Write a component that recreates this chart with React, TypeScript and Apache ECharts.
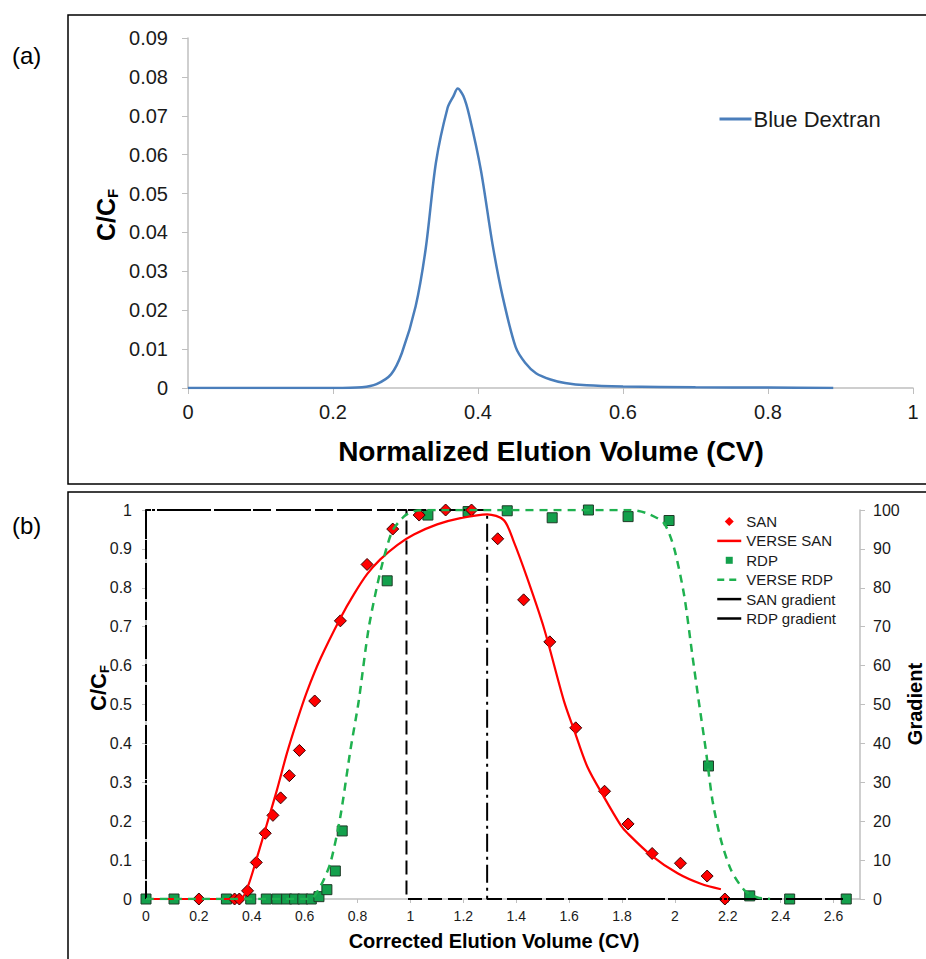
import React, { useEffect, useRef } from "react";
import * as echarts from "echarts";

// ---------- Panel (a): Blue Dextran ----------
const bdX = [0, 0.1, 0.2, 0.24, 0.26, 0.28, 0.295, 0.314, 0.328, 0.342, 0.358, 0.366, 0.372, 0.38, 0.388, 0.404, 0.42, 0.434, 0.452, 0.465, 0.48, 0.5, 0.52, 0.55, 0.6, 0.7, 0.8, 0.89];
const bdY = [0, 0, 0, 0.0002, 0.001, 0.0035, 0.009, 0.021, 0.036, 0.058, 0.072, 0.075, 0.077, 0.075, 0.07, 0.056, 0.037, 0.0235, 0.0105, 0.0065, 0.0038, 0.0022, 0.0013, 0.0007, 0.0004, 0.0002, 0.0001, 0];

// ---------- Panel (b) ----------
const sanX = [0.2, 0.335, 0.353, 0.384, 0.417, 0.451, 0.48, 0.509, 0.542, 0.58, 0.638, 0.735, 0.836, 0.933, 1.033, 1.133, 1.231, 1.33, 1.428, 1.527, 1.625, 1.734, 1.823, 1.914, 2.021, 2.122, 2.189];
const sanY = [0, 0, 0, 0.021, 0.094, 0.169, 0.215, 0.26, 0.317, 0.382, 0.509, 0.715, 0.86, 0.951, 0.987, 1.0, 1.0, 0.926, 0.769, 0.661, 0.44, 0.277, 0.193, 0.117, 0.092, 0.059, 0];

const verseSanX = [0, 0.356, 0.384, 0.419, 0.457, 0.495, 0.533, 0.571, 0.608, 0.659, 0.735, 0.786, 0.836, 0.886, 0.95, 1.013, 1.101, 1.189, 1.29, 1.353, 1.391, 1.442, 1.505, 1.58, 1.619, 1.669, 1.732, 1.795, 1.821, 1.909, 2.01, 2.098, 2.174];
const verseSanY = [0, 0, 0.03, 0.105, 0.192, 0.28, 0.375, 0.458, 0.532, 0.617, 0.722, 0.783, 0.835, 0.873, 0.91, 0.937, 0.963, 0.979, 0.989, 0.974, 0.918, 0.824, 0.696, 0.51, 0.434, 0.34, 0.262, 0.19, 0.169, 0.113, 0.066, 0.039, 0.025];

const rdpX = [0, 0.106, 0.304, 0.396, 0.455, 0.495, 0.532, 0.562, 0.593, 0.625, 0.654, 0.684, 0.716, 0.742, 0.912, 1.066, 1.218, 1.366, 1.536, 1.673, 1.823, 1.978, 2.127, 2.283, 2.434, 2.648];
const rdpY = [0, 0, 0, 0, 0, 0, 0, 0, 0, 0, 0.006, 0.024, 0.072, 0.175, 0.818, 0.987, 0.996, 0.998, 0.98, 1.0, 0.983, 0.973, 0.342, 0.008, 0, 0];

const verseRdpX = [0, 0.62, 0.659, 0.697, 0.735, 0.773, 0.804, 0.842, 0.886, 0.93, 0.975, 1.013, 1.1, 1.833, 1.897, 1.959, 1.997, 2.035, 2.066, 2.091, 2.117, 2.142, 2.174, 2.212, 2.262, 2.312, 2.36];
const verseRdpY = [0, 0, 0.032, 0.092, 0.212, 0.383, 0.507, 0.696, 0.841, 0.944, 0.983, 0.997, 1, 1, 0.991, 0.966, 0.902, 0.781, 0.627, 0.505, 0.383, 0.254, 0.152, 0.075, 0.023, 0.004, 0];

const sanGradX = [0, 0, 1.29, 1.29, 2.65];
const sanGradY = [0, 100, 100, 0, 0];
const rdpGradX = [0, 0, 0.985, 0.985, 2.65];
const rdpGradY = [0, 100, 100, 0, 0];

const zip = (x: number[], y: number[]) => x.map((v, i) => [v, y[i]]);

const FONT = "'Liberation Sans', Arial, Helvetica, sans-serif";
const GRAY = "#bfbfbf";
const HIDE_SYMBOL = { opacity: 0 };
const DIAMOND_ICON = "path://M0,0 M5,0.5 L9.5,5 L5,9.5 L0.5,5 Z M10,10";
const SQUARE_ICON = "path://M0,0 M1.5,1.5 L8.5,1.5 L8.5,8.5 L1.5,8.5 Z M10,10";

export default function App() {
  const ref = useRef<HTMLDivElement>(null);
  useEffect(() => {
    if (!ref.current) return;
    const chart = echarts.init(ref.current, null, { renderer: "svg" });
    const axisCommon = {
      type: "value" as const,
      axisLine: { show: true, lineStyle: { color: GRAY, width: 1.5 } },
      axisTick: { show: true, inside: false, length: 6, lineStyle: { color: GRAY, width: 1 } },
      splitLine: { show: false },
    };
    chart.setOption({
      animation: false,
      backgroundColor: "#fff",
      textStyle: { fontFamily: FONT },
      grid: [
        { left: 188, right: 13, top: 38, bottom: 571 },
        { left: 146, right: 66, top: 510, bottom: 60 },
      ],
      xAxis: [
        {
          ...axisCommon, gridIndex: 0, min: 0, max: 1, interval: 0.2,
          axisLabel: { fontSize: 20, color: "#1a1a1a", margin: 14, fontFamily: FONT },
        },
        {
          ...axisCommon, gridIndex: 1, min: 0, max: 2.7, interval: 0.2,
          axisTick: { show: true, inside: false, length: 4, lineStyle: { color: GRAY } },
          axisLabel: { fontSize: 14, color: "#1a1a1a", margin: 10, showMaxLabel: false, fontFamily: FONT },
        },
      ],
      yAxis: [
        {
          ...axisCommon, gridIndex: 0, min: 0, max: 0.09, interval: 0.01,
          axisLabel: { fontSize: 20, color: "#1a1a1a", margin: 20, fontFamily: FONT },
        },
        {
          ...axisCommon, gridIndex: 1, min: 0, max: 1, interval: 0.1,
          axisTick: { show: true, inside: false, length: 4, lineStyle: { color: GRAY } },
          axisLabel: { fontSize: 16, color: "#1a1a1a", margin: 14, fontFamily: FONT },
        },
        {
          ...axisCommon, gridIndex: 1, position: "right", min: 0, max: 100, interval: 10,
          axisTick: { show: true, inside: false, length: 5, lineStyle: { color: GRAY } },
          axisLabel: { fontSize: 16, color: "#1a1a1a", margin: 13, fontFamily: FONT },
        },
      ],
      legend: [
        {
          data: [{ name: "Blue Dextran", itemStyle: HIDE_SYMBOL, lineStyle: { width: 3 } }],
          left: 718, top: 108, orient: "vertical",
          itemWidth: 32, itemHeight: 10, selectedMode: false, padding: 0,
          textStyle: { fontSize: 22, color: "#1a1a1a", fontFamily: FONT, padding: [0, 0, 0, -3] },
        },
        {
          data: [
            { name: "SAN", icon: DIAMOND_ICON, itemStyle: { borderWidth: 0 } },
            { name: "VERSE SAN", itemStyle: HIDE_SYMBOL, lineStyle: { width: 2.5 } },
            { name: "RDP", icon: SQUARE_ICON, itemStyle: { borderWidth: 0 } },
            { name: "VERSE RDP", itemStyle: HIDE_SYMBOL, lineStyle: { width: 2.5, type: [7, 5] } },
            { name: "SAN gradient", itemStyle: HIDE_SYMBOL, lineStyle: { type: "solid", width: 2.5 } },
            { name: "RDP gradient", itemStyle: HIDE_SYMBOL, lineStyle: { type: "solid", width: 2.5 } },
          ],
          left: 716, top: 514, orient: "vertical", symbolKeepAspect: true,
          itemWidth: 24, itemHeight: 10, itemGap: 4.4, selectedMode: false, padding: 0,
          textStyle: { fontSize: 15, lineHeight: 15, color: "#1a1a1a", fontFamily: FONT },
        },
      ],
      series: [
        {
          name: "Blue Dextran", type: "line", xAxisIndex: 0, yAxisIndex: 0,
          data: zip(bdX, bdY), symbol: "none", smooth: 0.3,
          lineStyle: { color: "#4a7ebb", width: 2.5 }, itemStyle: { color: "#4a7ebb" },
        },
        {
          name: "SAN gradient", type: "line", xAxisIndex: 1, yAxisIndex: 2,
          data: zip(sanGradX, sanGradY), symbol: "none",
          lineStyle: { color: "#000", width: 2, type: [18, 5, 3, 5] }, itemStyle: { color: "#000" },
        },
        {
          name: "RDP gradient", type: "line", xAxisIndex: 1, yAxisIndex: 2,
          data: zip(rdpGradX, rdpGradY), symbol: "none",
          lineStyle: { color: "#000", width: 2, type: [14, 6] }, itemStyle: { color: "#000" },
        },
        {
          name: "VERSE SAN", type: "line", xAxisIndex: 1, yAxisIndex: 1,
          data: zip(verseSanX, verseSanY), symbol: "none", smooth: 0.3,
          lineStyle: { color: "#ff0000", width: 2.2 }, itemStyle: { color: "#ff0000" },
        },
        {
          name: "VERSE RDP", type: "line", xAxisIndex: 1, yAxisIndex: 1,
          data: zip(verseRdpX, verseRdpY), symbol: "none", smooth: 0.25,
          lineStyle: { color: "#1fb14f", width: 2.5, type: [8, 6] }, itemStyle: { color: "#1fb14f" },
        },
        {
          name: "RDP", type: "scatter", xAxisIndex: 1, yAxisIndex: 1,
          data: zip(rdpX, rdpY), symbol: "rect", symbolSize: 10,
          itemStyle: { color: "#13a04c", borderColor: "#1f3a27", borderWidth: 1, opacity: 1 },
        },
        {
          name: "SAN", type: "scatter", xAxisIndex: 1, yAxisIndex: 1,
          data: zip(sanX, sanY), symbol: "diamond", symbolSize: 12,
          itemStyle: { color: "#ff0000", borderColor: "#3a0000", borderWidth: 1, opacity: 1 },
        },
      ],
      graphic: [
        { type: "rect", shape: { x: 68, y: 15, width: 900, height: 469 }, style: { fill: "none", stroke: "#000", lineWidth: 1.5 }, silent: true },
        { type: "rect", shape: { x: 68, y: 492, width: 900, height: 520 }, style: { fill: "none", stroke: "#000", lineWidth: 1.5 }, silent: true },
        { type: "text", x: 12, y: 55, style: { text: "(a)", font: `24px ${FONT}`, fill: "#000", verticalAlign: "middle", textVerticalAlign: "middle" } },
        { type: "text", x: 12, y: 525, style: { text: "(b)", font: `24px ${FONT}`, fill: "#000", verticalAlign: "middle", textVerticalAlign: "middle" } },
        {
          type: "text", x: 551, y: 451,
          style: { text: "Normalized Elution Volume (CV)", font: `bold 28px ${FONT}`, fill: "#000", align: "center", textAlign: "center", verticalAlign: "middle", textVerticalAlign: "middle" },
        },
        {
          type: "text", x: 494, y: 941,
          style: { text: "Corrected Elution Volume (CV)", font: `bold 20px ${FONT}`, fill: "#000", align: "center", textAlign: "center", verticalAlign: "middle", textVerticalAlign: "middle" },
        },
        {
          type: "text", x: 915, y: 704, rotation: Math.PI / 2,
          style: { text: "Gradient", font: `bold 20px ${FONT}`, fill: "#000", align: "center", textAlign: "center", verticalAlign: "middle", textVerticalAlign: "middle" },
        },
        {
          type: "text", x: 106, y: 215, rotation: Math.PI / 2,
          style: {
            text: "{a|C/C}{b|F}", fill: "#000", align: "center", textAlign: "center", verticalAlign: "middle", textVerticalAlign: "middle",
            rich: {
              a: { fontSize: 25, fontWeight: "bold", fontFamily: FONT, lineHeight: 28 },
              b: { fontSize: 15, fontWeight: "bold", fontFamily: FONT, lineHeight: 15, verticalAlign: "bottom" },
            },
          },
        },
        {
          type: "text", x: 98, y: 688, rotation: Math.PI / 2,
          style: {
            text: "{a|C/C}{b|F}", fill: "#000", align: "center", textAlign: "center", verticalAlign: "middle", textVerticalAlign: "middle",
            rich: {
              a: { fontSize: 22, fontWeight: "bold", fontFamily: FONT, lineHeight: 26 },
              b: { fontSize: 13, fontWeight: "bold", fontFamily: FONT, lineHeight: 13, verticalAlign: "bottom" },
            },
          },
        },
      ],
    });
    return () => chart.dispose();
  }, []);
  return <div ref={ref} style={{ position: "fixed", left: 0, top: 0, width: 926, height: 959 }} />;
}
